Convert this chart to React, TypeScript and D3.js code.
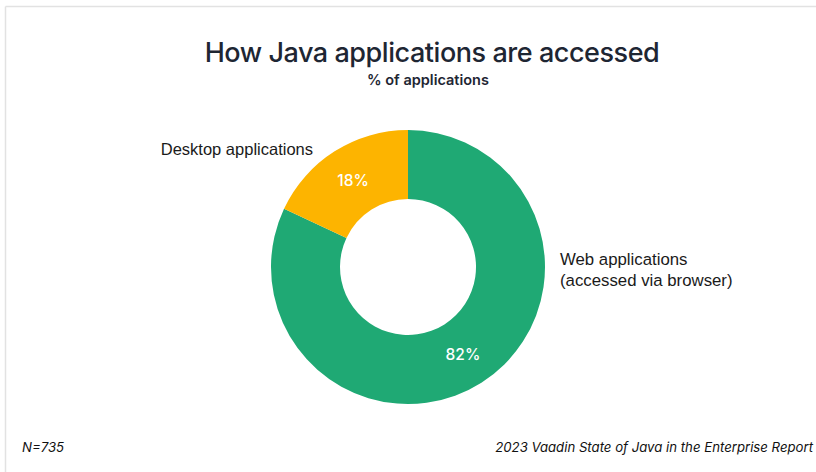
import React from "react";
import * as d3 from "d3";

const categories = ["Web applications", "Desktop applications"];
const values = [82, 18];
const colors = ["#1fa974", "#fdb400"];
const title = "How Java applications are accessed";
const subtitle = "% of applications";
const footerLeft = "N=735";
const footerRight = "2023 Vaadin State of Java in the Enterprise Report";

export default function App() {
  const W = 816, H = 472;
  const cx = 408, cy = 267, R = 137, r = 68;
  const data = categories.map((c, i) => ({ c, v: values[i], color: colors[i] }));
  const pie = d3.pie<any>().value((d: any) => d.v).sort(null);
  const arcs = pie(data);
  const arc = d3.arc<any>().innerRadius(r).outerRadius(R);
  return (
    <svg width={W} height={H} style={{ position: "absolute", left: 0, top: 0, background: "#fff" }}>
      <line x1={5.5} y1={6.5} x2={W} y2={6.5} stroke="#e2e2e2" strokeWidth={1.5} />
      <line x1={5.5} y1={6.5} x2={5.5} y2={H} stroke="#e2e2e2" strokeWidth={1.5} />
      <text x={432} y={61.5} textAnchor="middle" fontFamily="Inter" fontWeight={500} fontSize={27} letterSpacing={-0.45} fill="#1e2633">{title}</text>
      <text x={428} y={85} textAnchor="middle" fontFamily="Inter" fontWeight={600} fontSize={14.5} fill="#1e2633">{subtitle}</text>
      <g transform={`translate(${cx},${cy})`}>
        {arcs.map((a, i) => (
          <path key={i} d={arc(a) as string} fill={a.data.color} />
        ))}
        {arcs.map((a, i) => {
          const [x, y] = arc.centroid(a);
          return (
            <text key={"t" + i} x={x} y={y + 6} textAnchor="middle" fontFamily="Inter" fontWeight={500} fontSize={15.5} fill="#fff">
              {a.data.v}%
            </text>
          );
        })}
      </g>
      <text x={313} y={155} textAnchor="end" fontFamily="Liberation Sans, Arial" fontSize={16.5} fill="#1a1a1a">Desktop applications</text>
      <text x={560} y={265} fontFamily="Liberation Sans, Arial" fontSize={16.8} fill="#1a1a1a">
        <tspan x={560}>Web applications</tspan>
        <tspan x={560} dy={21}>(accessed via browser)</tspan>
      </text>
      <text x={22} y={452} fontFamily="Inter" fontStyle="italic" fontSize={13.2} fill="#111">{footerLeft}</text>
      <text x={813} y={452} textAnchor="end" fontFamily="Inter" fontStyle="italic" fontSize={13.2} fill="#111">{footerRight}</text>
    </svg>
  );
}
